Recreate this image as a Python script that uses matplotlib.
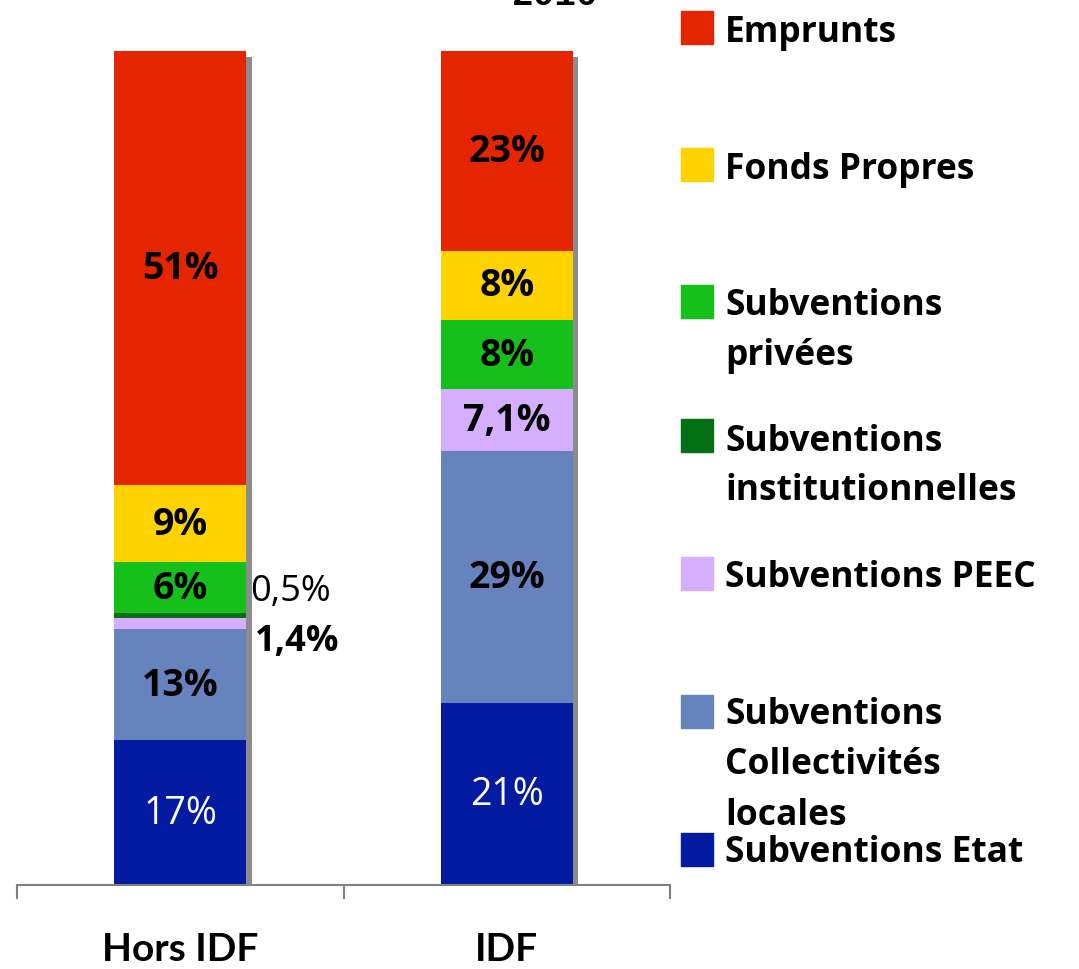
import matplotlib
matplotlib.use("Agg")
import matplotlib.pyplot as plt
import numpy as np

categories = ["Hors IDF", "IDF"]
series = ["Subventions Etat", "Subventions\nCollectivités\nlocales", "Subventions PEEC",
          "Subventions\ninstitutionnelles", "Subventions\nprivées", "Fonds Propres", "Emprunts"]
hors_idf = [17, 13, 1.4, 0.5, 6, 9, 51]
idf = [21, 29, 7.1, 0, 8, 8, 23]
hors_labels = ["17%", "13%", "", "", "6%", "9%", "51%"]
idf_labels = ["21%", "29%", "7,1%", "", "8%", "8%", "23%"]
colors = ["#031BA0", "#6783BE", "#D5AEFF", "#037016", "#16C01A", "#FFD300", "#E52500"]
label_colors = ["white", "black", "black", "black", "black", "black", "black"]
label_weights = ["normal", "bold", "bold", "bold", "bold", "bold", "bold"]

W, H = 1079, 970
fig = plt.figure(figsize=(W / 100, H / 100), dpi=100)
ax = fig.add_axes([17 / W, (H - 886) / H, (670 - 17) / W, (886 - 52) / H])

data = np.array([hors_idf, idf], dtype=float)
shares = data / data.sum(axis=1, keepdims=True) * 100
labels = [hors_labels, idf_labels]
x = np.arange(len(categories))
width = 0.404

# shadow
ax.bar(x + 0.017, np.full(len(x), 99.3), width=width, color="#8C8C8C", zorder=1)

bottom = np.zeros(len(x))
for i in range(len(series)):
    ax.bar(x, shares[:, i], width=width, bottom=bottom, color=colors[i], zorder=2)
    for j in range(len(x)):
        t = labels[j][i]
        if t:
            ax.text(x[j], bottom[j] + shares[j, i] / 2, t, ha="center", va="center",
                    color=label_colors[i], fontsize=27, fontweight=label_weights[i],
                    family="Open Sans", zorder=3)
    bottom += shares[:, i]

# outside labels for small segments of Hors IDF
ax.text(0.215, 35.3, "0,5%", ha="left", va="center", fontsize=26, family="Open Sans", color="black")
ax.text(0.23, 29.2, "1,4%", ha="left", va="center", fontsize=26, family="Open Sans",
        fontweight="bold", color="black")

ax.set_xlim(-0.5, 1.5)
ax.set_ylim(0, 100)
for s in ["top", "right", "left"]:
    ax.spines[s].set_visible(False)
ax.spines["bottom"].set_color("#808080")
ax.spines["bottom"].set_linewidth(1.5)
ax.set_yticks([])
ax.set_xticks(x)
ax.set_xticklabels(categories, fontsize=28, fontweight="bold", family="Lato")
ax.tick_params(axis="x", which="major", length=0, pad=33)
ax.set_xticks([-0.5, 0.5, 1.5], minor=True)
ax.tick_params(axis="x", which="minor", length=10, width=1.5, color="#808080")

# title partially cut
fig.text(555 / W, 1 - 5 / H, "2010", ha="center", va="baseline", fontsize=26,
         family="Liberation Mono", fontweight="bold")

# legend
legend_items = [
    (6, 29, [33]),
    (5, 166, [170]),
    (4, 303, [306, 356]),
    (3, 437, [442, 491]),
    (2, 575, [578]),
    (1, 713, [715, 765, 816]),
    (0, 851, [853]),
]
for idx, sq_y, line_ys in legend_items:
    fig.patches.append(plt.Rectangle((681 / W, 1 - (sq_y + 16) / H), 32 / W, 33 / H,
                                     transform=fig.transFigure, color=colors[idx]))
    lines = series[idx].split("\n")
    for ln, ly in zip(lines, line_ys):
        fig.text(725 / W, 1 - ly / H, ln, ha="left", va="center", fontsize=25.5,
                 fontweight="bold", family="Open Sans")

fig.savefig("out.png", dpi=100)
